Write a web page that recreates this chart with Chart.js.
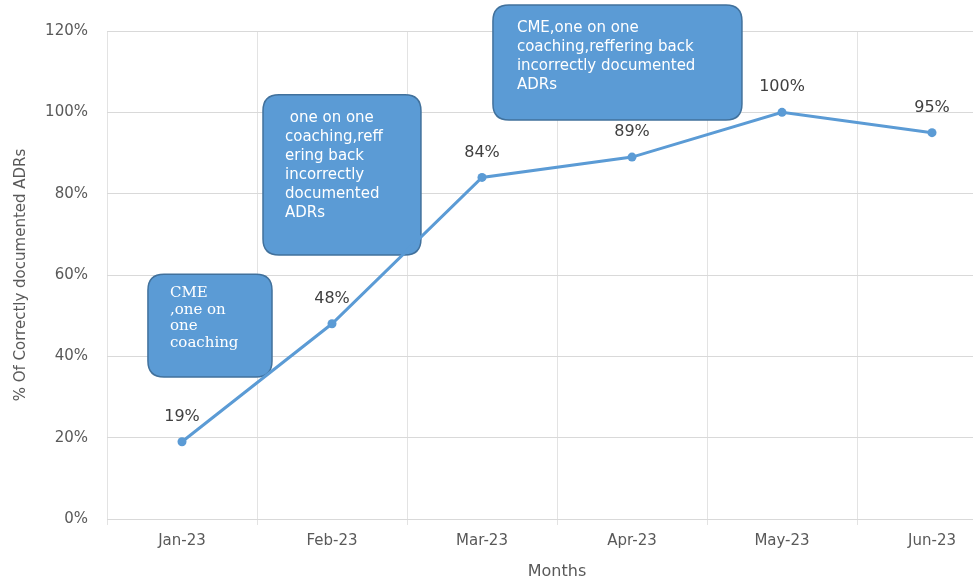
<!DOCTYPE html>
<html><head><meta charset="utf-8">
<script src="https://cdn.jsdelivr.net/npm/chart.js@4.4.1/dist/chart.umd.min.js"></script>
<style>html,body{margin:0;padding:0;background:#fff;overflow:hidden;width:973px;height:579px}
#wrap{width:1020px;height:579px}</style></head>
<body><div id="wrap"><canvas id="c" width="1020" height="579"></canvas></div>
<script>
const months = ['Jan-23','Feb-23','Mar-23','Apr-23','May-23','Jun-23'];
const correctPct = [19, 48, 84, 89, 100, 95];
const yTickStep = 20;
const yMax = 120;
const noteTexts = [
  ['CME', ',one on', 'one', 'coaching'],
  [' one on one', 'coaching,reff', 'ering back', 'incorrectly', 'documented', 'ADRs'],
  ['CME,one on one', 'coaching,reffering back', 'incorrectly documented', 'ADRs']
];
// annotation placement in data units (category index, percent)
const notePlacement = [
  {x0: -0.227, x1: 0.6,   y0: 60.2,  y1: 34.9, font: '15px "DejaVu Serif"', lh: 16.5, padX: 22, padY: 19},
  {x0: 0.54,   x1: 1.593, y0: 104.3, y1: 64.9, font: '15px "DejaVu Sans"',  lh: 19,   padX: 22, padY: 23},
  {x0: 2.073,  x1: 3.733, y0: 126.4, y1: 98.1, font: '15px "DejaVu Sans"',  lh: 19,   padX: 24, padY: 23}
];

function rr(ctx, x, y, w, h, r) {
  ctx.beginPath();
  ctx.moveTo(x + r, y);
  ctx.lineTo(x + w - r, y);
  ctx.quadraticCurveTo(x + w, y, x + w, y + r);
  ctx.lineTo(x + w, y + h - r);
  ctx.quadraticCurveTo(x + w, y + h, x + w - r, y + h);
  ctx.lineTo(x + r, y + h);
  ctx.quadraticCurveTo(x, y + h, x, y + h - r);
  ctx.lineTo(x, y + r);
  ctx.quadraticCurveTo(x, y, x + r, y);
  ctx.closePath();
}

const notesPlugin = {
  id: 'notes',
  beforeDatasetsDraw(chart) {
    const {ctx, scales: {x, y}} = chart;
    ctx.save();
    notePlacement.forEach((p, i) => {
      const l = x.getPixelForValue(p.x0), r = x.getPixelForValue(p.x1);
      const t = y.getPixelForValue(p.y0), b = y.getPixelForValue(p.y1);
      rr(ctx, l, t, r - l, b - t, 16);
      ctx.fillStyle = '#5b9bd5';
      ctx.fill();
      ctx.lineWidth = 1.5;
      ctx.strokeStyle = '#41719c';
      ctx.stroke();
      ctx.fillStyle = '#ffffff';
      ctx.font = p.font;
      ctx.textAlign = 'left';
      ctx.textBaseline = 'middle';
      noteTexts[i].forEach((line, k) => {
        ctx.fillText(line, l + p.padX, t + p.padY + k * p.lh);
      });
    });
    ctx.restore();
  }
};

const labelsPlugin = {
  id: 'valueLabels',
  afterDatasetsDraw(chart) {
    const {ctx} = chart;
    const meta = chart.getDatasetMeta(0);
    ctx.save();
    ctx.font = '16px "DejaVu Sans"';
    ctx.fillStyle = '#404040';
    ctx.textAlign = 'center';
    ctx.textBaseline = 'middle';
    meta.data.forEach((pt, i) => {
      ctx.fillText(correctPct[i] + '%', pt.x, pt.y - 25);
    });
    ctx.restore();
  }
};

new Chart(document.getElementById('c'), {
  type: 'line',
  data: {
    labels: months,
    datasets: [{
      data: correctPct,
      borderColor: '#5b9bd5',
      backgroundColor: '#5b9bd5',
      borderWidth: 3,
      pointRadius: 4.5,
      pointBorderWidth: 0,
      pointBackgroundColor: '#5b9bd5',
      tension: 0
    }]
  },
  options: {
    responsive: false,
    animation: false,
    layout: {padding: {left: 0, right: 13, top: 31, bottom: 0}},
    plugins: {legend: {display: false}, tooltip: {enabled: false}},
    scales: {
      x: {
        offset: true,
        grid: {offset: true, color: '#e3e3e3', tickLength: 6, drawTicks: true},
        border: {display: true, color: '#d9d9d9'},
        ticks: {color: '#595959', font: {family: 'DejaVu Sans', size: 15}, padding: 7, maxRotation: 0},
        title: {display: true, text: 'Months', color: '#595959', font: {family: 'DejaVu Sans', size: 16}, padding: {top: 0, bottom: -2}},
        afterFit(s) { s.height = 60; }
      },
      y: {
        min: 0, max: yMax,
        grid: {color: '#d9d9d9', drawTicks: false},
        border: {display: false},
        ticks: {stepSize: yTickStep, color: '#595959', font: {family: 'DejaVu Sans', size: 15}, padding: 19,
          callback: v => v + '%'},
        title: {display: true, text: '% Of Correctly documented ADRs', color: '#595959', font: {family: 'DejaVu Sans', size: 15}, padding: {top: 12, bottom: 0}},
        afterFit(s) { s.width = 107; }
      }
    }
  },
  plugins: [notesPlugin, labelsPlugin]
});
</script>
</body></html>
